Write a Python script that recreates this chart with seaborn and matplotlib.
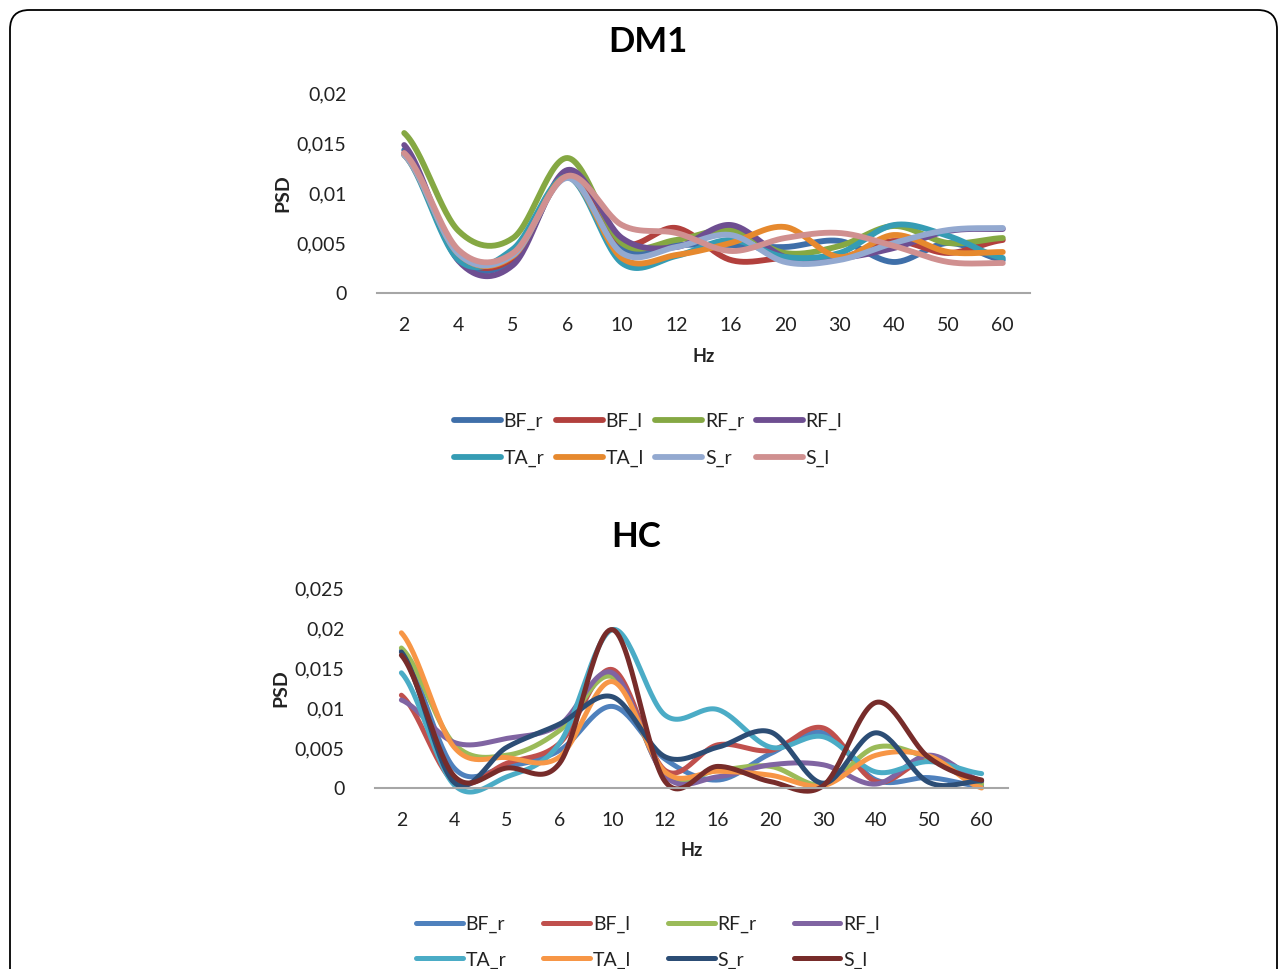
import numpy as np
import pandas as pd
import matplotlib
matplotlib.use("Agg")
import matplotlib.pyplot as plt
import seaborn as sns
from matplotlib.patches import FancyBboxPatch
from matplotlib.ticker import FuncFormatter

# categories (Hz)
hz = ["2", "4", "5", "6", "10", "12", "16", "20", "30", "40", "50", "60"]
muscles = ["BF_r", "BF_l", "RF_r", "RF_l", "TA_r", "TA_l", "S_r", "S_l"]

# DM1 values
dm1_bf_r = [0.0143, 0.0035, 0.0033, 0.0118, 0.0045, 0.0048, 0.0048, 0.0046, 0.0052, 0.0031, 0.0050, 0.0033]
dm1_bf_l = [0.0140, 0.0038, 0.0035, 0.0118, 0.0050, 0.0065, 0.0033, 0.0035, 0.0035, 0.0052, 0.0040, 0.0053]
dm1_rf_r = [0.0160, 0.0062, 0.0055, 0.0135, 0.0050, 0.0053, 0.0063, 0.0040, 0.0047, 0.0067, 0.0050, 0.0055]
dm1_rf_l = [0.0148, 0.0032, 0.0028, 0.0123, 0.0055, 0.0046, 0.0068, 0.0036, 0.0035, 0.0045, 0.0062, 0.0064]
dm1_ta_r = [0.0138, 0.0033, 0.0044, 0.0116, 0.0030, 0.0037, 0.0053, 0.0036, 0.0040, 0.0068, 0.0057, 0.0035]
dm1_ta_l = [0.0138, 0.0039, 0.0037, 0.0116, 0.0035, 0.0038, 0.0050, 0.0066, 0.0036, 0.0058, 0.0041, 0.0041]
dm1_s_r = [0.0138, 0.0039, 0.0038, 0.0115, 0.0040, 0.0046, 0.0058, 0.0031, 0.0033, 0.0050, 0.0063, 0.0065]
dm1_s_l = [0.0140, 0.0043, 0.0040, 0.0117, 0.0068, 0.0060, 0.0042, 0.0055, 0.0060, 0.0047, 0.0031, 0.0030]

# HC values
hc_bf_r = [0.0172, 0.0025, 0.0027, 0.0047, 0.0102, 0.0036, 0.0010, 0.0043, 0.0069, 0.0010, 0.0013, 0.0002]
hc_bf_l = [0.0116, 0.0008, 0.0031, 0.0056, 0.0148, 0.0022, 0.0054, 0.0047, 0.0075, 0.0008, 0.0036, 0.0008]
hc_rf_r = [0.0175, 0.0055, 0.0041, 0.0072, 0.0139, 0.0017, 0.0022, 0.0027, 0.0004, 0.0051, 0.0037, 0.0005]
hc_rf_l = [0.0110, 0.0057, 0.0062, 0.0079, 0.0144, 0.0015, 0.0014, 0.0029, 0.0029, 0.0005, 0.0041, 0.0009]
hc_ta_r = [0.0144, 0.0004, 0.0014, 0.0056, 0.0198, 0.0091, 0.0098, 0.0051, 0.0064, 0.0020, 0.0033, 0.0018]
hc_ta_l = [0.0194, 0.0051, 0.0038, 0.0039, 0.0133, 0.0020, 0.0021, 0.0016, 0.0003, 0.0041, 0.0040, 0.0000]
hc_s_r = [0.0170, 0.0007, 0.0051, 0.0080, 0.0114, 0.0039, 0.0051, 0.0070, 0.0006, 0.0069, 0.0007, 0.0009]
hc_s_l = [0.0166, 0.0015, 0.0025, 0.0031, 0.0198, 0.0008, 0.0027, 0.0008, 0.0003, 0.0107, 0.0038, 0.0010]

dm1_vals = [dm1_bf_r, dm1_bf_l, dm1_rf_r, dm1_rf_l, dm1_ta_r, dm1_ta_l, dm1_s_r, dm1_s_l]
hc_vals = [hc_bf_r, hc_bf_l, hc_rf_r, hc_rf_l, hc_ta_r, hc_ta_l, hc_s_r, hc_s_l]

dm1_colors = ["#3f6fa9", "#b2403d", "#85a843", "#6e4e91", "#359cb4", "#e6892e", "#93a9d0", "#d09090"]
hc_colors = ["#4f81bd", "#c0504d", "#9bbb59", "#8064a2", "#4bacc6", "#f79646", "#2c4d75", "#772c2a"]


def smooth(y, n=30):
    # Excel-style smoothed line (Catmull-Rom through the points)
    y = np.asarray(y, dtype=float)
    p = np.concatenate([[y[0]], y, [y[-1]]])
    xs, ys = [], []
    for i in range(len(y) - 1):
        p0, p1, p2, p3 = p[i], p[i + 1], p[i + 2], p[i + 3]
        t = np.linspace(0, 1, n, endpoint=False)
        seg = 0.5 * (2 * p1 + (-p0 + p2) * t + (2 * p0 - 5 * p1 + 4 * p2 - p3) * t ** 2
                     + (-p0 + 3 * p1 - 3 * p2 + p3) * t ** 3)
        xs.append(i + t)
        ys.append(seg)
    xs.append([len(y) - 1])
    ys.append([y[-1]])
    return np.concatenate(xs), np.concatenate(ys)


def long_df(vals):
    rows = []
    for name, v in zip(muscles, vals):
        xs, ys = smooth(v)
        rows.append(pd.DataFrame({"x": xs, "psd": ys, "muscle": name}))
    return pd.concat(rows, ignore_index=True)


sns.set_style("white")
plt.rcParams["font.family"] = ["Lato", "DejaVu Sans"]
txt = "#222222"

fig = plt.figure(figsize=(12.87, 9.69), dpi=100)

frame = FancyBboxPatch((10 / 1287, -0.05), 1267 / 1287, 1.05 - 10 / 969,
                       boxstyle="round,pad=0,rounding_size=0.015", transform=fig.transFigure,
                       fill=False, edgecolor="black", linewidth=1.3, mutation_aspect=1287 / 969)
fig.patches.append(frame)


def draw(ax, vals, colors, ymax, step, lw):
    df = long_df(vals)
    sns.lineplot(data=df, x="x", y="psd", hue="muscle", palette=dict(zip(muscles, colors)),
                 hue_order=muscles, linewidth=lw, ax=ax, sort=False, estimator=None,
                 solid_capstyle="round")
    for ln in ax.lines:
        ln.set_clip_on(False)
    ax.set_xlim(-0.5, len(hz) - 0.5)
    ax.set_ylim(0, ymax)
    ax.set_xticks(range(len(hz)))
    ax.set_xticklabels(hz)
    ax.set_yticks(np.arange(0, ymax + step / 2, step))
    ax.yaxis.set_major_formatter(FuncFormatter(lambda v, p: "0" if abs(v) < 1e-12 else f"{v:g}".replace(".", ",")))
    ax.tick_params(axis="both", length=0, labelsize=14, colors=txt)
    ax.tick_params(axis="x", pad=17)
    ax.tick_params(axis="y", pad=22)
    for s in ["top", "right", "left"]:
        ax.spines[s].set_visible(False)
    ax.spines["bottom"].set_color("#a6a6a6")
    ax.spines["bottom"].set_linewidth(1.5)
    ax.set_xlabel("Hz", fontsize=13, fontweight="bold", color=txt, labelpad=10)
    ax.set_ylabel("PSD", fontsize=14, fontweight="bold", color=txt, labelpad=4)
    handles, labels = ax.get_legend_handles_labels()
    ax.get_legend().remove()
    # row-major order for a 2 x 4 legend
    order = [0, 4, 1, 5, 2, 6, 3, 7]
    return [handles[i] for i in order], [labels[i] for i in order]


ax1 = fig.add_axes([377 / 1287, 1 - 293 / 969, 653 / 1287, 200 / 969])
h1, l1 = draw(ax1, dm1_vals, dm1_colors, 0.02, 0.005, 4.2)
fig.text(648 / 1287, 1 - 42 / 969, "DM1", ha="center", va="center", fontsize=25, fontweight="bold", color="black")
leg1 = fig.legend(h1, l1, loc="center", bbox_to_anchor=(648 / 1287, 1 - 440 / 969), ncol=4, frameon=False,
                  fontsize=14, handlelength=2.4, handletextpad=0.15, columnspacing=0.6, labelspacing=1.0)
for t in leg1.get_texts():
    t.set_color(txt)
for lh in leg1.get_lines():
    lh.set_linewidth(4.2)

ax2 = fig.add_axes([375 / 1287, 1 - 788 / 969, 633 / 1287, 200 / 969])
h2, l2 = draw(ax2, hc_vals, hc_colors, 0.025, 0.005, 3.6)
fig.text(636 / 1287, 1 - 537 / 969, "HC", ha="center", va="center", fontsize=25, fontweight="bold", color="black")
leg2 = fig.legend(h2, l2, loc="upper center", bbox_to_anchor=(648 / 1287, 1 - 898 / 969), ncol=4, frameon=False,
                  fontsize=14, handlelength=2.4, handletextpad=0.15, columnspacing=1.9, labelspacing=0.95)
for t in leg2.get_texts():
    t.set_color(txt)
for lh in leg2.get_lines():
    lh.set_linewidth(3.6)

fig.savefig("out.png", dpi=100)
